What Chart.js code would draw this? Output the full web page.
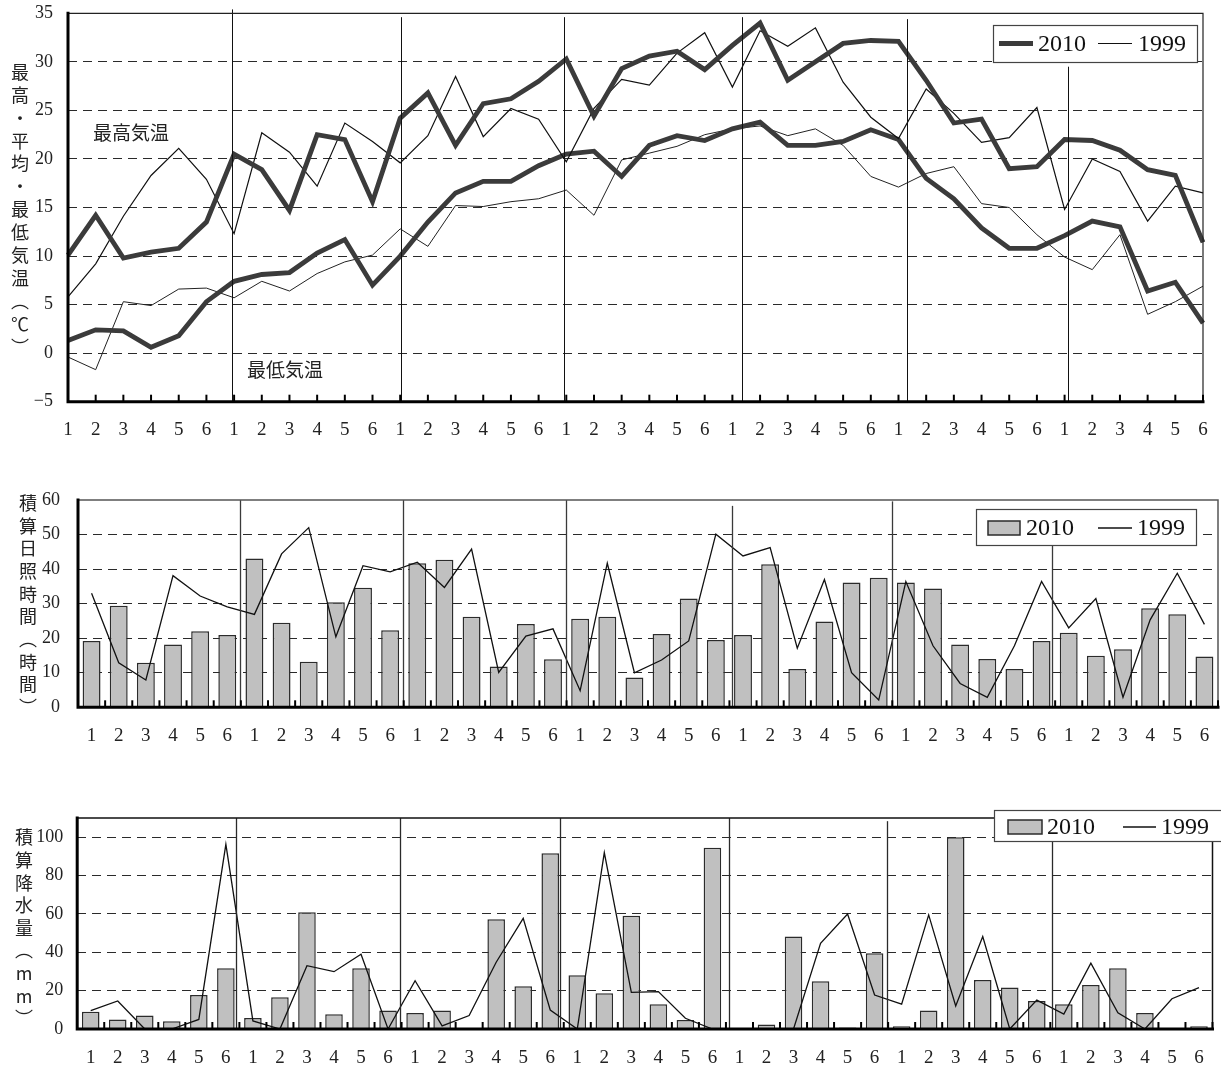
<!DOCTYPE html>
<html>
<head>
<meta charset="utf-8">
<script src="https://cdn.jsdelivr.net/npm/chart.js@4.4.1/dist/chart.umd.min.js"></script>
<style>
  html, body { margin: 0; padding: 0; background: #fff; }
  body { width: 1221px; height: 1065px; position: relative; overflow: hidden; }
  .panel { position: absolute; left: 0; width: 1221px; }
</style>
</head>
<body>
<div class="panel" style="top:0;height:440px"><canvas id="temp"></canvas></div>
<div class="panel" style="top:470px;height:290px"><canvas id="sun"></canvas></div>
<div class="panel" style="top:790px;height:275px"><canvas id="rain"></canvas></div>
<script>
// Half-decade (5-day) periods 1-6 for each of seven months
const periodLabels = [
  '1','2','3','4','5','6', '1','2','3','4','5','6', '1','2','3','4','5','6',
  '1','2','3','4','5','6', '1','2','3','4','5','6', '1','2','3','4','5','6',
  '1','2','3','4','5','6'
];

// Maximum / minimum air temperature (°C)
const maxTemp2010 = [10.1,14.2,9.8,10.4,10.8,13.5, 20.5,18.9,14.7,22.5,22.0,15.6, 24.2,26.8,21.4,25.7,26.2,28.0,
  30.3,24.4,29.3,30.6,31.1,29.2, 31.7,34.0,28.1,30.0,31.9,32.2, 32.1,28.1,23.7,24.1,19.0,19.2, 22.0,21.9,20.9,18.9,18.3,11.4];
const maxTemp1999 = [5.8,9.2,14.1,18.3,21.1,17.9, 12.3,22.7,20.7,17.2,23.7,21.8, 19.6,22.4,28.5,22.3,25.2,24.1,
  19.7,25.2,28.2,27.6,30.9,33.0, 27.4,33.2,31.6,33.5,27.9,24.3, 22.1,27.2,24.7,21.7,22.2,25.3, 14.8,20.0,18.7,13.6,17.2,16.5];
const minTemp2010 = [1.3,2.4,2.3,0.6,1.8,5.3, 7.4,8.1,8.3,10.3,11.7,7.0, 10.0,13.5,16.5,17.7,17.7,19.3,
  20.5,20.8,18.2,21.4,22.4,21.9, 23.1,23.8,21.4,21.4,21.8,23.0, 22.0,18.0,15.9,12.9,10.8,10.8, 12.1,13.6,13.0,6.4,7.3,3.1];
const minTemp1999 = [-0.4,-1.7,5.3,4.9,6.6,6.7, 5.7,7.4,6.4,8.2,9.4,10.1, 12.8,11.0,15.2,15.1,15.6,15.9,
  16.8,14.2,19.9,20.6,21.3,22.5, 23.1,23.4,22.4,23.1,21.4,18.2, 17.1,18.5,19.2,15.4,15.0,12.2, 9.9,8.6,12.2,4.0,5.3,6.9];

// Accumulated sunshine hours
const sun2010 = [19.2,29.4,12.9,18.2,22.0,20.9, 43.1,24.5,13.2,30.4,34.6,22.3, 41.7,42.7,26.2,11.8,24.1,13.9,
  25.6,26.2,8.6,21.2,31.5,19.5, 20.9,41.4,11.1,24.8,36.1,37.5, 36.1,34.4,18.2,14.0,11.1,19.2, 21.6,14.9,16.8,28.7,26.9,14.7];
const sun1999 = [33.0,12.9,7.9,38.1,32.2,29.1, 26.9,44.4,52.0,20.4,41.0,39.2, 42.0,34.7,45.8,10.1,20.6,22.7,
  4.8,41.7,10.0,13.7,19.2,50.1, 43.8,46.2,17.1,37.0,10.0,2.1, 36.4,17.8,6.9,2.9,17.8,36.4, 23.0,31.5,2.9,25.3,38.8,24.0];

// Accumulated precipitation (mm)
const rain2010 = [9.0,5.0,7.0,4.0,17.7,31.7, 5.7,16.5,60.9,7.7,31.7,9.7, 8.3,9.6,0,57.2,22.3,91.7,
  28.0,18.6,59.1,12.9,4.7,94.6, 0,2.4,48.2,24.9,0.8,39.5, 1.4,9.7,100,25.6,21.6,14.6, 12.9,23.0,31.7,8.3,0,1.4];
const rain1999 = [9.6,14.6,0,0,5.0,96.3, 4.2,0,33.0,29.9,39.0,0, 25.2,1.6,7.0,34.8,57.7,9.9,
  0,92.0,19.1,19.5,5.6,0, 0,0,0,44.7,60.0,17.7, 13.0,59.5,12.0,48.2,0,15.1, 7.8,34.3,8.5,0,15.8,21.6];

const SERIF = '"Liberation Serif", "DejaVu Serif", serif';
const JP = '"Noto Sans CJK JP", "Noto Sans", sans-serif';

// Frame, month dividers, inner tick marks, legend box, notes and vertical axis title
const panelDecor = {
  id: 'panelDecor',
  afterDatasetsDraw(chart, _args, o) {
    const { ctx, chartArea: a } = chart;
    const xs = chart.scales.x, ys = chart.scales.y;
    ctx.save();

    ctx.strokeStyle = o.dividerColor;
    ctx.lineWidth = o.dividerWidth;
    o.dividers.forEach(([at, from]) => {
      const px = Math.round(xs.getPixelForValue(at)) + 0.5;
      ctx.beginPath();
      ctx.moveTo(px, ys.getPixelForValue(from));
      ctx.lineTo(px, a.bottom);
      ctx.stroke();
    });

    ctx.strokeStyle = o.frameColor;
    ctx.lineWidth = o.frameWidth;
    ctx.beginPath();
    ctx.moveTo(a.left, a.top);
    ctx.lineTo(a.right, a.top);
    ctx.lineTo(a.right, a.bottom);
    ctx.stroke();

    ctx.strokeStyle = '#000';
    ctx.lineWidth = 3;
    ctx.lineCap = 'square';
    ctx.beginPath();
    ctx.moveTo(a.left, a.top);
    ctx.lineTo(a.left, a.bottom);
    ctx.lineTo(a.right, a.bottom);
    ctx.stroke();

    ctx.lineCap = 'butt';
    ctx.lineWidth = 2;
    chart.data.labels.forEach((_, i) => {
      const px = xs.getPixelForValue(i + o.tickShift);
      ctx.beginPath();
      ctx.moveTo(px, a.bottom);
      ctx.lineTo(px, a.bottom - 7);
      ctx.stroke();
    });

    const L = o.legend;
    const [bx1, by1, bx2, by2] = L.box;
    ctx.fillStyle = '#fff';
    ctx.fillRect(bx1, by1, bx2 - bx1, by2 - by1);
    ctx.strokeStyle = '#444';
    ctx.lineWidth = 1.2;
    ctx.strokeRect(bx1 + 0.5, by1 + 0.5, bx2 - bx1, by2 - by1);
    L.items.forEach(it => {
      const ds = chart.data.datasets[it.ds];
      if (it.kind === 'box') {
        ctx.fillStyle = ds.backgroundColor;
        ctx.fillRect(it.x, L.cy - 7, it.w, 14);
        ctx.strokeStyle = ds.borderColor;
        ctx.lineWidth = 1.5;
        ctx.strokeRect(it.x, L.cy - 7, it.w, 14);
      } else {
        ctx.strokeStyle = ds.borderColor;
        ctx.lineWidth = ds.borderWidth;
        ctx.beginPath();
        ctx.moveTo(it.x, L.cy);
        ctx.lineTo(it.x + it.w, L.cy);
        ctx.stroke();
      }
      ctx.fillStyle = '#111';
      ctx.font = '24px ' + SERIF;
      ctx.textAlign = 'left';
      ctx.textBaseline = 'middle';
      ctx.fillText(ds.label, it.tx, L.cy + 1);
    });

    (o.notes || []).forEach(n => {
      ctx.fillStyle = '#222';
      ctx.font = '19px ' + JP;
      ctx.textAlign = 'left';
      ctx.textBaseline = 'middle';
      ctx.fillText(n.text, xs.getPixelForValue(n.at[0]), ys.getPixelForValue(n.at[1]));
    });

    const T = o.title;
    ctx.fillStyle = '#222';
    ctx.font = '18px ' + JP;
    ctx.textAlign = 'center';
    ctx.textBaseline = 'middle';
    T.chars.forEach((c, i) => ctx.fillText(c, T.x, T.y + i * T.step));

    ctx.restore();
  }
};
Chart.register(panelDecor);

const gridColor = ctx => {
  const s = ctx.scale;
  if (!ctx.tick || ctx.tick.value === s.min || ctx.tick.value === s.max) return 'rgba(0,0,0,0)';
  return '#2a2a2a';
};

function xAxis(offset, pad, height) {
  return {
    type: 'category', offset,
    grid: { display: false }, border: { display: false },
    ticks: { autoSkip: false, maxRotation: 0, padding: pad, color: '#222', font: { family: SERIF, size: 19 } },
    afterFit: s => { s.height = height; s.paddingLeft = 0; s.paddingRight = 0; }
  };
}
function yAxis(min, max, step, pad, width) {
  return {
    min, max,
    ticks: { stepSize: step, padding: pad, color: '#222', includeBounds: false, font: { family: SERIF, size: 18 },
             callback: v => (v < 0 ? '\u2212' + Math.abs(v) : String(v)) },
    grid: { color: gridColor, lineWidth: 1, drawTicks: false },
    border: { display: false, dash: [9, 6] },
    afterFit: s => { s.width = width; s.paddingTop = 0; s.paddingBottom = 0; }
  };
}
const common = {
  responsive: true, maintainAspectRatio: false, animation: false, devicePixelRatio: 1,
  elements: { point: { radius: 0, hoverRadius: 0 }, line: { tension: 0, borderJoinStyle: 'miter', fill: false } },
};

// Panel 1: temperatures
new Chart(document.getElementById('temp'), {
  type: 'line',
  data: {
    labels: periodLabels,
    datasets: [
      { label: '2010', data: maxTemp2010, borderColor: '#3b3b3b', borderWidth: 4.8 },
      { label: '1999', data: maxTemp1999, borderColor: '#111', borderWidth: 1.2 },
      { label: '2010 最低', data: minTemp2010, borderColor: '#3b3b3b', borderWidth: 4.8 },
      { label: '1999 最低', data: minTemp1999, borderColor: '#222', borderWidth: 1 }
    ]
  },
  options: Object.assign({}, common, {
    layout: { padding: { top: 13.3, right: 18, left: 0, bottom: 0 } },
    plugins: {
      legend: { display: false }, tooltip: { enabled: false },
      panelDecor: {
        dividers: [[5.92, 35.4], [12.03, 34.6], [17.92, 34.6], [24.35, 34.6], [30.31, 34.4], [36.13, 29.5]],
        dividerColor: '#111', dividerWidth: 1,
        frameColor: '#222', frameWidth: 1.2, tickShift: 0,
        legend: { box: [993, 25, 1197, 62], cy: 43.5, items: [
          { ds: 0, kind: 'line', x: 999, w: 34, tx: 1038 },
          { ds: 1, kind: 'line', x: 1098, w: 34, tx: 1138 } ] },
        notes: [ { text: '最高気温', at: [0.9, 22.7] }, { text: '最低気温', at: [6.47, -1.7] } ],
        title: { chars: ['最','高','・','平','均','・','最','低','気','温','︵','℃','︶'], x: 20, y: 72, step: 22.9 }
      }
    },
    scales: { x: xAxis(false, 9, 38.3), y: yAxis(-5, 35, 5, 15, 68) }
  })
});

// Panel 2: sunshine hours
new Chart(document.getElementById('sun'), {
  type: 'bar',
  data: {
    labels: periodLabels,
    datasets: [
      { label: '2010', data: sun2010, backgroundColor: '#c0c0c0', borderColor: '#2b2b2b', borderWidth: 1.5,
        categoryPercentage: 1, barPercentage: 0.66, order: 2 },
      { type: 'line', label: '1999', data: sun1999, borderColor: '#111', borderWidth: 1.3, order: 1 }
    ]
  },
  options: Object.assign({}, common, {
    layout: { padding: { top: 30, right: 3, left: 0, bottom: 0 } },
    plugins: {
      legend: { display: false }, tooltip: { enabled: false },
      panelDecor: {
        dividers: [[5.47, 60], [11.47, 60], [17.48, 60], [23.6, 58.3], [29.49, 59.6], [35.39, 49.4]],
        dividerColor: '#3a3a3a', dividerWidth: 1.3,
        frameColor: '#555', frameWidth: 1.5, tickShift: 0.5,
        legend: { box: [976, 39, 1196, 75], cy: 58, items: [
          { ds: 0, kind: 'box', x: 988, w: 32, tx: 1026 },
          { ds: 1, kind: 'line', x: 1098, w: 34, tx: 1137 } ] },
        title: { chars: ['積','算','日','照','時','間','︵','時','間','︶'], x: 28, y: 33, step: 22.7 }
      }
    },
    scales: { x: xAxis(true, 9, 52.7), y: yAxis(0, 60, 10, 18, 78) }
  })
});

// Panel 3: precipitation
new Chart(document.getElementById('rain'), {
  type: 'bar',
  data: {
    labels: periodLabels,
    datasets: [
      { label: '2010', data: rain2010, backgroundColor: '#c0c0c0', borderColor: '#2b2b2b', borderWidth: 1.5,
        categoryPercentage: 1, barPercentage: 0.65, order: 2 },
      { type: 'line', label: '1999', data: rain1999, borderColor: '#111', borderWidth: 1.3, order: 1 }
    ]
  },
  options: Object.assign({}, common, {
    layout: { padding: { top: 28.1, right: 8.5, left: 0, bottom: 0 } },
    plugins: {
      legend: { display: false }, tooltip: { enabled: false },
      panelDecor: {
        dividers: [[5.37, 110], [11.44, 110], [17.36, 110], [23.61, 110], [29.46, 108.4], [35.56, 99.5]],
        dividerColor: '#2a2a2a', dividerWidth: 1.3,
        frameColor: '#111', frameWidth: 1.5, tickShift: 0.5,
        legend: { box: [994, 20, 1228, 51], cy: 37, items: [
          { ds: 0, kind: 'box', x: 1008, w: 34, tx: 1047 },
          { ds: 1, kind: 'line', x: 1123, w: 33, tx: 1161 } ] },
        title: { chars: ['積','算','降','水','量','︵','m','m','︶'], x: 24, y: 47.5, step: 22.6 }
      }
    },
    scales: { x: xAxis(true, 10, 36), y: yAxis(0, 110, 20, 14, 77.2) }
  })
});
</script>
</body>
</html>
